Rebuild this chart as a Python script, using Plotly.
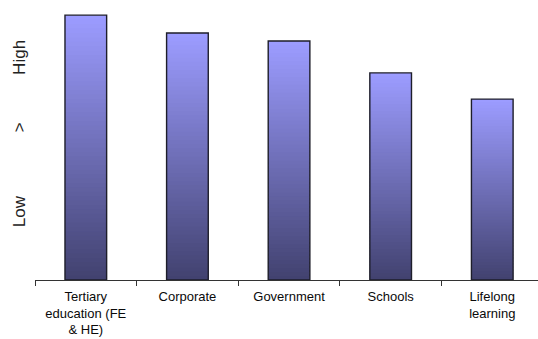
import plotly.graph_objects as go

categories = ["Tertiary<br>education (FE<br>& HE)", "Corporate", "Government", "Schools", "Lifelong<br>learning"]
values = [98.1, 91.5, 88.5, 76.7, 67.0]
level_vals = [24.4, 55.6, 81.5]
level_text = ["Low", ">", "High"]

top_rgb = (156, 156, 255)
bot_rgb = (66, 66, 112)
N = 60

fig = go.Figure()
for i in range(N):
    f = i / (N - 1)
    c = tuple(round(bot_rgb[k] + (top_rgb[k] - bot_rgb[k]) * f) for k in range(3))
    col = "rgb(%d,%d,%d)" % c
    bases = [v * i / N for v in values]
    hts = [v / N * (1.6 if i < N - 1 else 1.0) for v in values]
    fig.add_trace(go.Bar(x=categories, y=hts, base=bases, width=0.41,
                         marker=dict(color=col, line=dict(width=0)),
                         showlegend=False, hoverinfo="skip"))
# outline
fig.add_trace(go.Bar(x=categories, y=values, width=0.41,
                     marker=dict(color="rgba(0,0,0,0)", line=dict(color="#1e1e2a", width=1.4)),
                     showlegend=False))

fig.update_layout(
    width=538, height=339, barmode="overlay",
    margin=dict(l=35, r=0, t=10, b=59),
    paper_bgcolor="white", plot_bgcolor="white",
    font=dict(family="Arial", color="#111"),
    xaxis=dict(type="category", range=[-0.5, 4.45], showline=True, linecolor="#333", linewidth=1,
               ticks="outside", ticklen=5, tickcolor="#333", tickson="boundaries",
               ticklabelstandoff=4,
               tickfont=dict(size=13, color="#0a0a0a"), showgrid=False, zeroline=False),
    yaxis=dict(range=[0, 100], showgrid=False, zeroline=False, showline=False,
               tickvals=level_vals, ticktext=level_text, tickangle=-90,
               ticks="outside", ticklen=2, tickcolor="rgba(0,0,0,0)",
               tickfont=dict(size=17, color="#222")),
)
fig.write_html("out.html")
